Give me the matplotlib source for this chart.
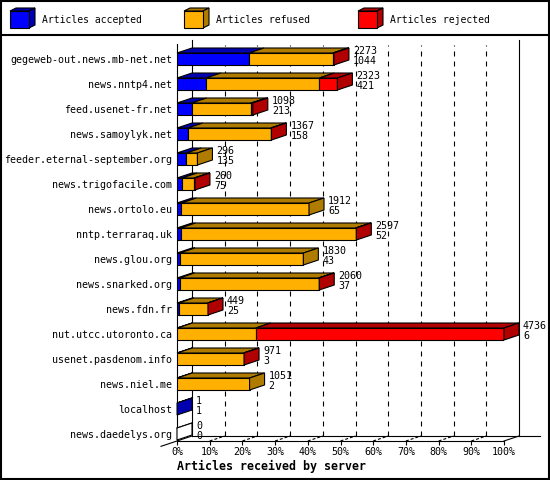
import matplotlib as mpl
mpl.use('agg')
import matplotlib.pyplot as plt
from matplotlib.patches import Polygon, Rectangle
import numpy as np

servers = ['gegeweb-out.news.mb-net.net', 'news.nntp4.net', 'feed.usenet-fr.net',
           'news.samoylyk.net', 'feeder.eternal-september.org', 'news.trigofacile.com',
           'news.ortolo.eu', 'nntp.terraraq.uk', 'news.glou.org', 'news.snarked.org',
           'news.fdn.fr', 'nut.utcc.utoronto.ca', 'usenet.pasdenom.info', 'news.niel.me',
           'localhost', 'news.daedelys.org']
accepted = np.array([1044, 421, 213, 158, 135, 75, 65, 52, 43, 37, 25, 6, 3, 2, 1, 0])
refused = np.array([1214, 1640, 860, 1201, 161, 175, 1847, 2535, 1787, 2013, 419, 1134, 963, 1049, 0, 0])
rejected = np.array([15, 262, 25, 8, 0, 10, 0, 10, 0, 10, 5, 3596, 5, 0, 0, 0])
series_names = ['Articles accepted', 'Articles refused', 'Articles rejected']
xticks = np.arange(0, 101, 10)
xticklabels = ['%d%%' % t for t in xticks]

front_cols = ['#0000ff', '#ffb000', '#ff0000']
side_cols = ['#0000b0', '#b07c00', '#b00000']

mpl.rcParams['lines.scale_dashes'] = False
mono = 'DejaVu Sans Mono'

W, H = 550, 480
px = 72 / 100.  # points per pixel
fig = plt.figure(figsize=(W / 100, H / 100), dpi=100)

# plot area (pixels)
x0p, x1p = 177, 504
y_base, y_top = 441, 44
row0, row_step = 59, 25
bar_h = 12
ddx, ddy = 15, 5

ax = fig.add_axes([x0p / W, (H - y_base) / H, (x1p - x0p) / W, (y_base - y_top) / H])
ax.patch.set_alpha(0)
ymax = (y_base - row0) / row_step
ymin = (y_top - row0) / row_step
ax.set_xlim(0, 100)
ax.set_ylim(ymax, ymin)
dx = ddx / (x1p - x0p) * 100
dy = ddy / row_step
lw = 0.8

totals = accepted + refused + rejected
scale = 100.0 / totals.max()
segs = np.vstack([accepted, refused, rejected]) * scale
rows = np.arange(len(servers))
hb = bar_h / row_step

# back wall, floor and grid
yb = ymax - dy
for t in xticks[1:-1]:
    ax.plot([t + dx, t + dx], [yb, (45 - row0) / row_step], color='k', lw=lw,
            ls=(0, (5 * px, 5 * px)), clip_on=False, zorder=1)
    ax.plot([t, t + dx], [ymax, yb], color='k', lw=lw, ls=(0, (3 * px, 2 * px)),
            clip_on=False, zorder=1)
ytop_back = (40 - row0) / row_step
ax.plot([dx, dx], [yb, ytop_back], color='k', lw=lw, clip_on=False, zorder=1)
ax.plot([100 + dx, 100 + dx], [yb, ytop_back], color='k', lw=lw, clip_on=False, zorder=1)
ax.plot([dx, (540 - x0p) / (x1p - x0p) * 100], [yb, yb], color='k', lw=lw, clip_on=False, zorder=1)
ax.plot([100, 100 + dx], [ymax, yb], color='k', lw=lw, clip_on=False, zorder=1)
ax.plot([-dx * 16 / 15, dx], [ymax + dy * 16 / 15, yb], color='k', lw=lw, clip_on=False, zorder=1)

# bars
left = np.zeros(len(servers))
last = np.full(len(servers), -1)
for k in range(3):
    w = segs[k]
    m = w > 0
    ax.barh(rows[m], w[m], left=left[m], height=hb, color=front_cols[k],
            edgecolor='k', lw=lw, zorder=3)
    for i in rows[m]:
        xa, xb = left[i], left[i] + w[i]
        yt = i - hb / 2
        ax.add_patch(Polygon([(xa, yt), (xb, yt), (xb + dx, yt - dy), (xa + dx, yt - dy)],
                             fc=side_cols[k], ec='k', lw=lw, zorder=3, clip_on=False))
        last[i] = k
    left += w

for i in rows:
    end = left[i]
    yt, ybot = i - hb / 2, i + hb / 2
    fc = side_cols[last[i]] if last[i] >= 0 else 'white'
    if last[i] < 0:
        ax.plot([end, end + dx], [yt, yt - dy], color='k', lw=lw, zorder=3, clip_on=False)
    ax.add_patch(Polygon([(end, yt), (end, ybot), (end + dx, ybot - dy), (end + dx, yt - dy)],
                         fc=fc, ec='k', lw=lw, zorder=3, clip_on=False))
    ax.annotate(str(totals[i]), xy=(end, i), xytext=(19 * px, 8.5 * px),
                textcoords='offset points', va='center', ha='left',
                fontsize=7.2, family=mono)
    ax.annotate(str(accepted[i]), xy=(end, i), xytext=(19 * px, -2 * px),
                textcoords='offset points', va='center', ha='left',
                fontsize=7.2, family=mono)

ax.spines['top'].set_visible(False)
ax.spines['right'].set_visible(False)
for s in ['left', 'bottom']:
    ax.spines[s].set_linewidth(lw)
ax.set_yticks(rows)
ax.set_yticklabels(servers, fontsize=7.2, family=mono)
ax.tick_params(axis='y', length=0, pad=5 * px)
ax.set_xticks(xticks)
ax.set_xticklabels(xticklabels, fontsize=7.2, family=mono)
ax.tick_params(axis='x', direction='out', length=4 * px, width=lw, pad=2 * px)
ax.set_xlabel('Articles received by server', loc='left', fontsize=8.4,
              fontweight='bold', family=mono, labelpad=3 * px)

# legend and frame in pixel space
lax = fig.add_axes([0, 0, 1, 1])
lax.patch.set_alpha(0)
lax.set_axis_off()
lax.set_xlim(0, W)
lax.set_ylim(H, 0)
lax.add_patch(Rectangle((1, 1), W - 2, H - 2, fill=False, ec='k', lw=1.5))
lax.plot([0, W], [35, 35], color='k', lw=1.5)
for k, lx in enumerate([10, 184, 358]):
    fx, fy, fw, fh, cx, cy = lx, 11, 19, 17, 6, 3
    lax.add_patch(Polygon([(fx, fy), (fx + fw, fy), (fx + fw + cx, fy - cy), (fx + cx, fy - cy)],
                          fc=side_cols[k], ec='k', lw=lw))
    lax.add_patch(Polygon([(fx + fw, fy), (fx + fw, fy + fh), (fx + fw + cx, fy + fh - cy),
                           (fx + fw + cx, fy - cy)], fc=side_cols[k], ec='k', lw=lw))
    lax.add_patch(Rectangle((fx, fy), fw, fh, fc=front_cols[k], ec='k', lw=lw))
    lax.text(lx + 32, 20, series_names[k], fontsize=7, family=mono, va='center', ha='left')

plt.savefig('out.png', dpi=100)
